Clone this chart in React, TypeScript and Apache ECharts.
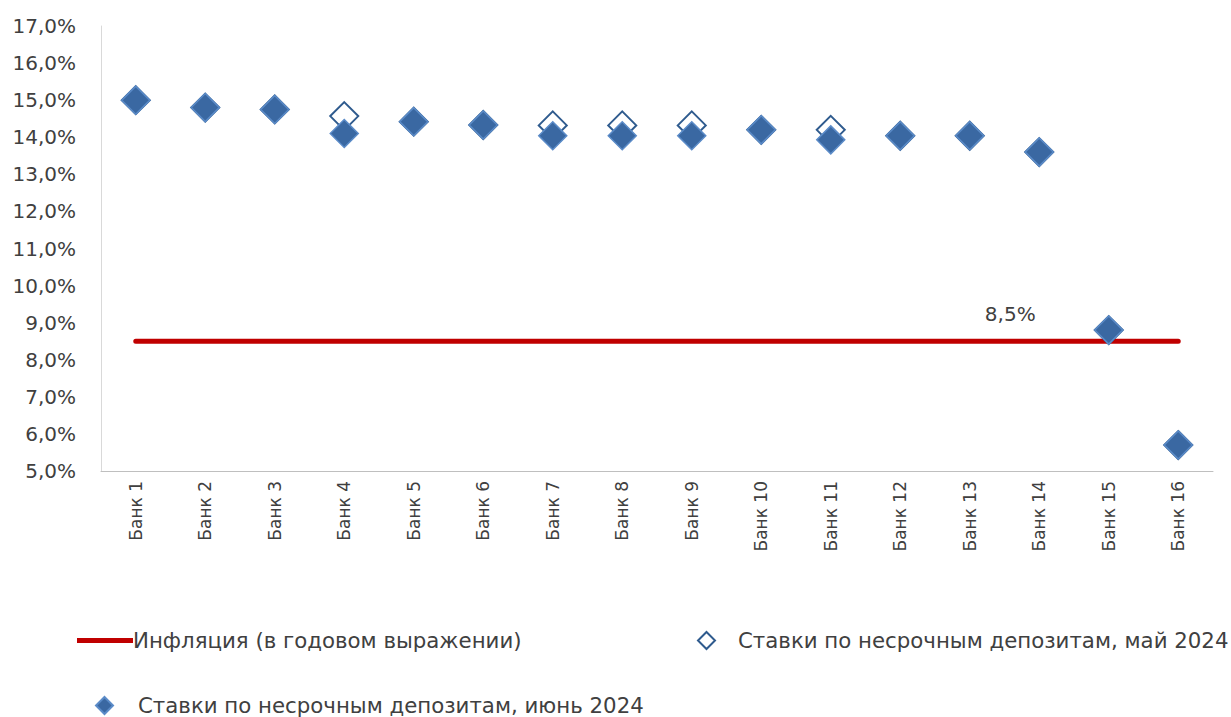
import React, { useEffect, useRef } from "react";
import * as echarts from "echarts";

const categories = [
  "Банк 1", "Банк 2", "Банк 3", "Банк 4", "Банк 5", "Банк 6", "Банк 7", "Банк 8",
  "Банк 9", "Банк 10", "Банк 11", "Банк 12", "Банк 13", "Банк 14", "Банк 15", "Банк 16",
];
const inflation = [8.5, 8.5, 8.5, 8.5, 8.5, 8.5, 8.5, 8.5, 8.5, 8.5, 8.5, 8.5, 8.5, 8.5, 8.5, 8.5];
const mayRates = [15.0, 14.8, 14.75, 14.57, 14.42, 14.33, 14.32, 14.32, 14.32, 14.2, 14.2, 14.04, 14.04, 13.6, 8.8, 5.7];
const juneRates = [15.0, 14.8, 14.75, 14.1, 14.42, 14.33, 14.04, 14.04, 14.04, 14.2, 13.93, 14.04, 14.04, 13.6, 8.8, 5.7];
const inflationLabel = "8,5%";
const seriesNames = [
  "Инфляция (в годовом выражении)",
  "Ставки по несрочным депозитам, май 2024",
  "Ставки по несрочным депозитам, июнь 2024",
];

const FONT = "DejaVu Sans";
const TEXT = "#404040";

export default function App() {
  const ref = useRef<HTMLDivElement>(null);
  useEffect(() => {
    if (!ref.current) return;
    const chart = echarts.init(ref.current, null, { renderer: "svg" });
    const inflData = inflation.map((v, i) =>
      i === 13
        ? {
            value: v,
            label: {
              show: true,
              position: "top",
              offset: [-29, -12],
              formatter: inflationLabel,
              fontFamily: FONT,
              fontSize: 20,
              color: TEXT,
            },
          }
        : v
    );
    const legendText = { fontFamily: FONT, fontSize: 21.3, color: TEXT };
    chart.setOption({
      animation: false,
      backgroundColor: "#ffffff",
      grid: { left: 101, right: 18, top: 26, bottom: 246, containLabel: false },
      xAxis: {
        type: "category",
        data: categories,
        boundaryGap: true,
        axisLine: { show: true, lineStyle: { color: "#bfbfbf", width: 1 } },
        axisTick: { show: false },
        axisLabel: {
          rotate: 90,
          fontFamily: FONT,
          fontSize: 17,
          color: TEXT,
          margin: 10,
        },
        splitLine: { show: false },
      },
      yAxis: {
        type: "value",
        min: 5,
        max: 17,
        interval: 1,
        axisLine: { show: true, lineStyle: { color: "#d9d9d9", width: 1 } },
        axisTick: { show: false },
        splitLine: { show: false },
        axisLabel: {
          fontFamily: FONT,
          fontSize: 20,
          color: TEXT,
          margin: 25,
          formatter: (v: number) => v.toFixed(1).replace(".", ",") + "%",
        },
      },
      legend: [
        {
          left: 77,
          top: 630,
          padding: 0,
          data: [{ name: seriesNames[0], icon: "rect" }],
          itemWidth: 56,
          itemHeight: 5,
          itemGap: 0,
          textStyle: { ...legendText, padding: [0, 0, 0, -5] },
          itemStyle: { color: "#C00000" },
        },
        {
          left: 697,
          top: 630,
          padding: 0,
          data: [{ name: seriesNames[1], icon: "diamond" }],
          itemWidth: 17,
          itemHeight: 17,
          textStyle: { ...legendText, padding: [0, 0, 0, 18] },
        },
        {
          left: 95,
          top: 695,
          padding: 0,
          data: [{ name: seriesNames[2], icon: "diamond" }],
          itemWidth: 17,
          itemHeight: 17,
          textStyle: { ...legendText, padding: [0, 0, 0, 20] },
        },
      ],
      series: [
        {
          name: seriesNames[0],
          type: "line",
          data: inflData,
          symbol: "circle",
          symbolSize: 0,
          showSymbol: true,
          lineStyle: { color: "#C00000", width: 5, cap: "round" },
          itemStyle: { color: "#C00000" },
          z: 1,
        },
        {
          name: seriesNames[1],
          type: "scatter",
          data: mayRates,
          symbol: "diamond",
          symbolSize: 28,
          itemStyle: { color: "#ffffff", borderColor: "#2F5B8E", borderWidth: 2, opacity: 1 },
          z: 2,
        },
        {
          name: seriesNames[2],
          type: "scatter",
          data: juneRates,
          symbol: "diamond",
          symbolSize: 28,
          itemStyle: { color: "#3A68A2", borderColor: "#5B8BC8", borderWidth: 1.5, opacity: 1 },
          z: 3,
        },
      ],
    });
    return () => chart.dispose();
  }, []);
  return (
    <div
      ref={ref}
      style={{ position: "fixed", left: 0, top: 0, width: 1231, height: 717, background: "#fff" }}
    />
  );
}
